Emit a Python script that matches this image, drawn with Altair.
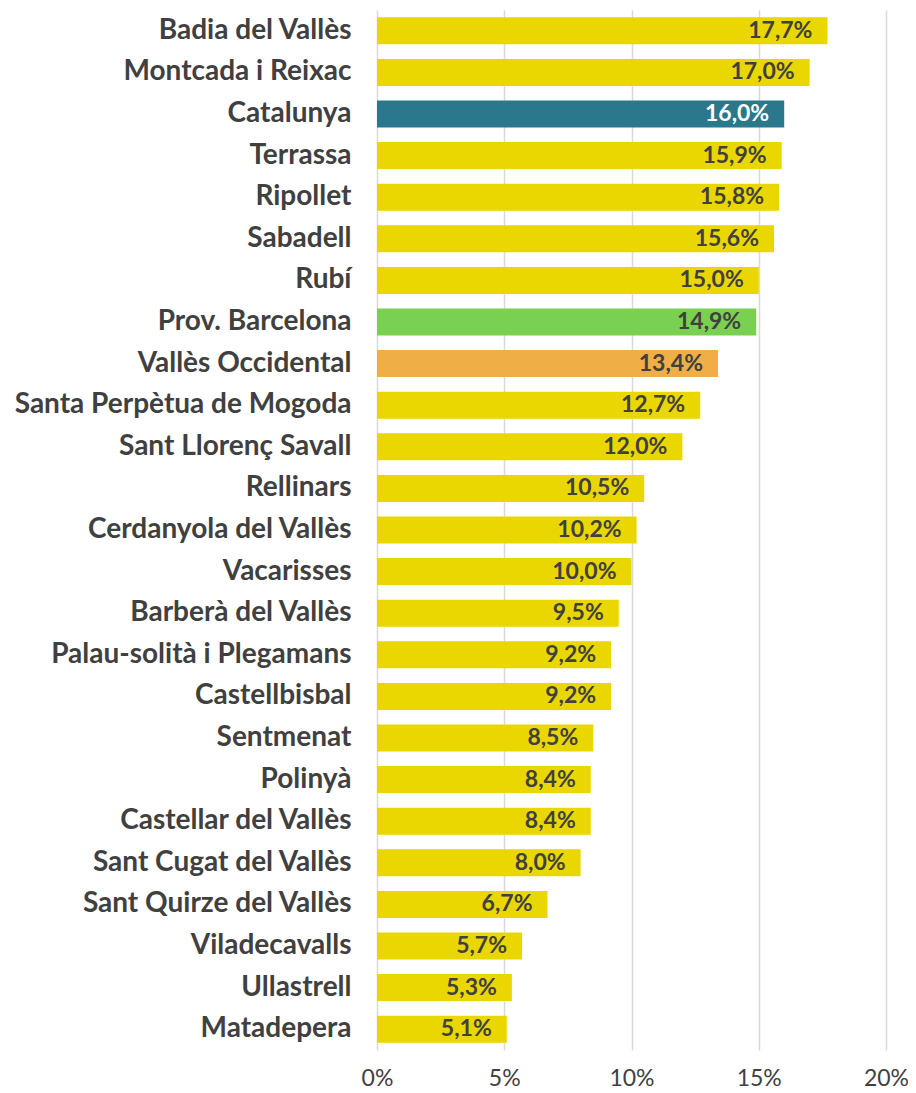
import altair as alt
import pandas as pd

names = ["Badia del Vallès", "Montcada i Reixac", "Catalunya", "Terrassa", "Ripollet",
         "Sabadell", "Rubí", "Prov. Barcelona", "Vallès Occidental",
         "Santa Perpètua de Mogoda", "Sant Llorenç Savall", "Rellinars",
         "Cerdanyola del Vallès", "Vacarisses", "Barberà del Vallès",
         "Palau-solità i Plegamans", "Castellbisbal", "Sentmenat", "Polinyà",
         "Castellar del Vallès", "Sant Cugat del Vallès", "Sant Quirze del Vallès",
         "Viladecavalls", "Ullastrell", "Matadepera"]
values = [17.7, 17.0, 16.0, 15.9, 15.8, 15.6, 15.0, 14.9, 13.4, 12.7, 12.0, 10.5,
          10.2, 10.0, 9.5, 9.2, 9.2, 8.5, 8.4, 8.4, 8.0, 6.7, 5.7, 5.3, 5.1]
groups = ["m", "m", "cat", "m", "m", "m", "m", "prov", "com"] + ["m"] * 16
group_domain = ["m", "cat", "prov", "com"]
group_colors = ["#EAD600", "#2B778C", "#7AD151", "#F0AE47"]

df = pd.DataFrame({"name": names, "value": [v / 100 for v in values], "group": groups})
df["label"] = [f"{v:.1f}".replace(".", ",") + "%" for v in values]
df["txtcol"] = ["#FFFFFF" if g == "cat" else "#404040" for g in groups]

base = alt.Chart(df).encode(
    y=alt.Y("name:N", sort=names, title=None,
            scale=alt.Scale(paddingInner=0.35, paddingOuter=0.175),
            axis=alt.Axis(labelFont="Lato", labelFontWeight="bold", labelFontSize=28,
                          labelColor="#404040", labelPadding=26, ticks=False,
                          domain=False, labelLimit=400)),
)

bars = base.mark_bar().encode(
    x=alt.X("value:Q", title=None,
            scale=alt.Scale(domain=[0, 0.2], nice=False),
            axis=alt.Axis(values=[0, 0.05, 0.1, 0.15, 0.2], format=".0%",
                          labelFont="Lato", labelFontSize=23, labelColor="#404040",
                          labelPadding=17, ticks=False, domain=False,
                          grid=True, gridColor="#D9D9D9", gridWidth=1.5,
                          labelFlush=False)),
    color=alt.Color("group:N", scale=alt.Scale(domain=group_domain, range=group_colors),
                    legend=None),
)

text = base.mark_text(align="right", baseline="middle", dx=-15, font="Lato",
                      fontWeight="bold", fontSize=23).encode(
    x=alt.X("value:Q"),
    text="label:N",
    color=alt.Color("txtcol:N", scale=None),
)

chart = (bars + text).properties(
    width=509, height=1040,
    autosize=alt.AutoSizeParams(type="none"),
    padding={"left": 369, "top": 2, "right": 22, "bottom": 40},
).configure_view(stroke=None)

chart.save("out.html", embed_options={"renderer": "svg", "actions": False})
